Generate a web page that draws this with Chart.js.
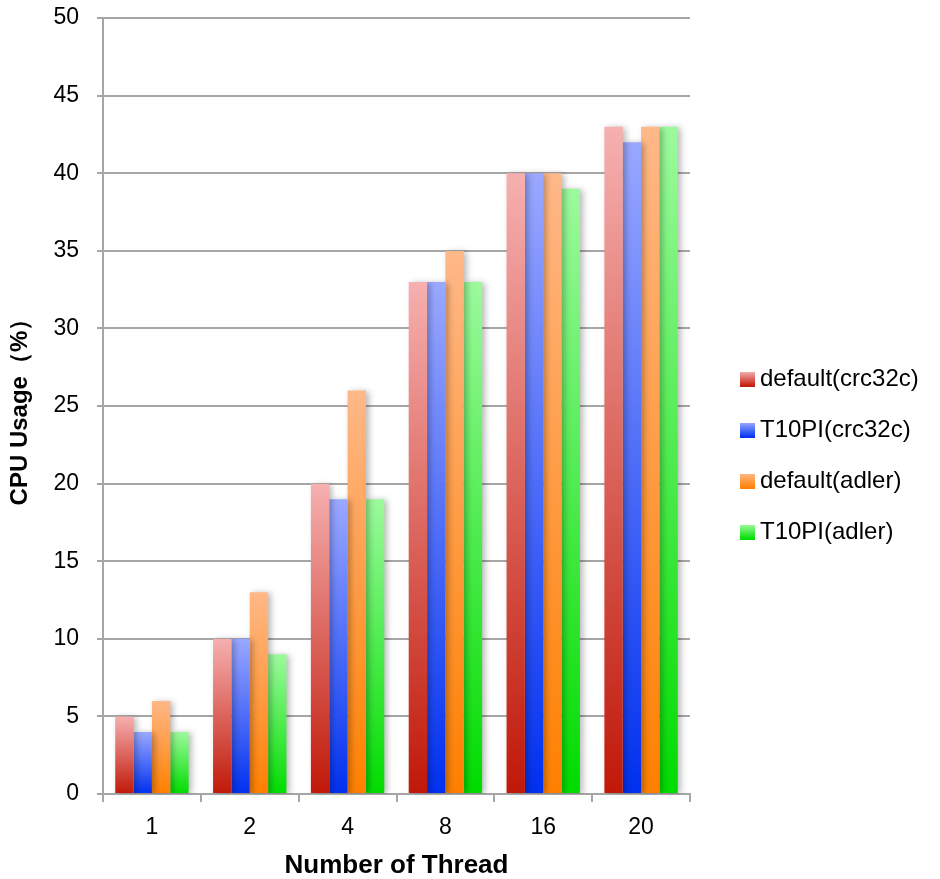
<!DOCTYPE html>
<html>
<head>
<meta charset="utf-8">
<script src="https://cdn.jsdelivr.net/npm/chart.js@4/dist/chart.umd.min.js"></script>
<style>
  html, body { margin: 0; padding: 0; background: #fff; }
  #wrap { width: 940px; height: 879px; }
</style>
</head>
<body>
<div id="wrap"><canvas id="c" width="940" height="879"></canvas></div>
<script>
// Thread counts on the x axis
const threads = ['1', '2', '4', '8', '16', '20'];

// CPU usage (%) for each checksum configuration
const defaultCrc32c = [5, 10, 20, 33, 40, 43];
const t10piCrc32c   = [4, 10, 19, 33, 40, 42];
const defaultAdler  = [6, 13, 26, 35, 40, 43];
const t10piAdler    = [4, 9, 19, 33, 39, 43];

const seriesNames = ['default(crc32c)', 'T10PI(crc32c)', 'default(adler)', 'T10PI(adler)'];

// light top -> saturated bottom for each series
const palette = [
  ['#f6b0b0', '#c01808'],
  ['#9aa8ff', '#0030f0'],
  ['#ffb888', '#ff8000'],
  ['#9cfa9c', '#00dc00']
];

const FONT = '"Liberation Sans", Arial, sans-serif';

function barGradient(ctx, i) {
  const chart = ctx.chart;
  if (!chart.chartArea || ctx.raw === undefined) return palette[i][1];
  const y = chart.scales.y;
  const top = y.getPixelForValue(ctx.raw);
  const bottom = y.getPixelForValue(0);
  const g = chart.ctx.createLinearGradient(0, top, 0, bottom);
  g.addColorStop(0, palette[i][0]);
  g.addColorStop(1, palette[i][1]);
  return g;
}

// legend marker: a 15px gradient square on the right of a wider transparent
// strip, so the marker sits close to its label and away from the plot
const MARK_W = 31;          // pointStyleWidth used by the legend
const SWATCH = 15;
function swatch(i) {
  const w = MARK_W + 14;
  const cv = document.createElement('canvas');
  cv.width = w; cv.height = SWATCH;
  const c = cv.getContext('2d');
  const g = c.createLinearGradient(0, 0, 0, SWATCH);
  g.addColorStop(0, palette[i][0]);
  g.addColorStop(1, palette[i][1]);
  c.fillStyle = g;
  c.fillRect(w - SWATCH, 0, SWATCH, SWATCH);
  return cv;
}

const values = [defaultCrc32c, t10piCrc32c, defaultAdler, t10piAdler];
const swatches = palette.map((_, i) => swatch(i));

const datasets = values.map((data, i) => ({
  label: seriesNames[i],
  data: data,
  backgroundColor: (ctx) => barGradient(ctx, i),
  borderWidth: 0,
  categoryPercentage: 0.75,
  barPercentage: 1.0,
  pointStyle: swatches[i]
}));

// soft drop shadow behind the bars
const barShadow = {
  id: 'barShadow',
  beforeDatasetsDraw(chart) {
    const c = chart.ctx;
    c.save();
    c.shadowColor = 'rgba(0,0,0,0.28)';
    c.shadowBlur = 6;
    c.shadowOffsetX = 3;
    c.shadowOffsetY = 1;
  },
  afterDatasetsDraw(chart) {
    chart.ctx.restore();
  }
};

const gridGray = '#a6a6a6';

new Chart(document.getElementById('c'), {
  type: 'bar',
  data: { labels: threads, datasets: datasets },
  plugins: [barShadow],
  options: {
    responsive: false,
    animation: false,
    devicePixelRatio: 1,
    layout: { padding: { top: 0, right: 20, left: 0, bottom: 0 } },
    plugins: {
      tooltip: { enabled: false },
      legend: {
        position: 'right',
        align: 'center',
        title: { display: true, text: ' ', padding: 10, font: { size: 10 } },
        labels: {
          usePointStyle: true,
          pointStyleWidth: MARK_W,
          boxWidth: 15,
          boxHeight: 15,
          padding: 27,
          color: '#000',
          font: { family: FONT, size: 24 }
        }
      }
    },
    scales: {
      x: {
        offset: true,
        grid: {
          display: true,
          offset: true,
          drawOnChartArea: false,
          drawTicks: true,
          tickLength: 8,
          color: gridGray,
          lineWidth: 2
        },
        border: { display: true, color: gridGray, width: 2 },
        ticks: {
          color: '#000',
          padding: 12,
          font: { family: FONT, size: 23 }
        },
        title: {
          display: true,
          text: 'Number of Thread',
          color: '#000',
          padding: { top: 0, bottom: 0 },
          font: { family: FONT, size: 26, weight: 'bold', lineHeight: 1.0 }
        },
        afterFit(scale) { scale.height = 85; }
      },
      y: {
        min: 0,
        max: 50,
        ticks: {
          stepSize: 5,
          color: '#000',
          padding: 18,
          // labels are single-line and centred on their tick, so a tiny
          // line height only keeps them from padding the plot top
          font: { family: FONT, size: 23, lineHeight: 0.01 }
        },
        grid: {
          color: gridGray,
          lineWidth: 2,
          tickLength: 6,
          drawTicks: true
        },
        border: { display: true, color: gridGray, width: 2 },
        title: {
          display: true,
          text: 'CPU Usage（%）',
          color: '#000',
          padding: { top: 6, bottom: 0 },
          font: { family: FONT, size: 24, weight: 'bold' }
        },
        afterFit(scale) { scale.width = 103; }
      }
    }
  }
});
</script>
</body>
</html>
